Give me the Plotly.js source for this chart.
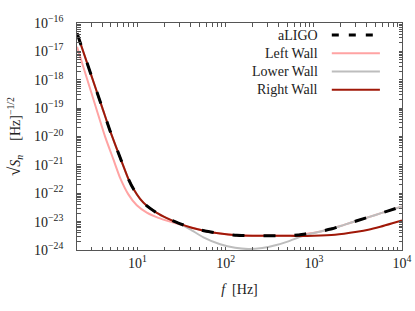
<!DOCTYPE html>
<html>
<head>
<meta charset="utf-8">
<script src="https://cdn.plot.ly/plotly-3.0.1.min.js"></script>
<style>html,body{margin:0;padding:0;background:#fff;}#chart{width:415px;height:311px;}</style>
</head>
<body>
<div id="chart"></div>
<script>
// ---- data ----
const seriesNames = ["aLIGO", "Left Wall", "Lower Wall", "Right Wall"];

const fALIGO = [2.063, 3, 4, 4.89, 6.63, 7.88, 8.98, 10.7, 12.76, 16.56, 21.5, 29.1, 41.3, 58.5, 86.6, 134, 200, 294, 400, 540, 665, 800, 1000, 1300, 1605, 2200, 3083, 5000, 6990, 10000];
const sALIGO = [4.34e-17, 1.39e-18, 1.0e-19, 1.57e-20, 1.28e-21, 3.21e-22, 1.43e-22, 6.35e-23, 3.6e-23, 2.04e-23, 1.33e-23, 8.85e-24, 6.05e-24, 4.67e-24, 3.78e-24, 3.3e-24, 3.18e-24, 3.16e-24, 3.16e-24, 3.2e-24, 3.4e-24, 3.68e-24, 4.05e-24, 4.8e-24, 5.58e-24, 7.7e-24, 1.07e-23, 1.72e-23, 2.4e-23, 3.4e-23];

const fLeft = [2.063, 3, 4.29, 5.33, 6.35, 7.88, 9.82, 12.76, 17.27, 23.4, 29.1, 41.3, 58.5, 86.6, 134, 200, 294, 400, 540, 665, 800, 1000, 1300, 1605, 2200, 3083, 5000, 6990, 10000];
const sLeft = [1.46e-17, 3.49e-19, 9.92e-21, 1.56e-21, 3.48e-22, 9.14e-23, 3.75e-23, 2.07e-23, 1.36e-23, 1.0e-23, 8.2e-24, 6.05e-24, 4.67e-24, 3.78e-24, 3.3e-24, 3.18e-24, 3.16e-24, 3.16e-24, 3.2e-24, 3.4e-24, 3.68e-24, 4.05e-24, 4.8e-24, 5.58e-24, 7.7e-24, 1.07e-23, 1.72e-23, 2.4e-23, 3.4e-23];

const fLower = [2.063, 3, 4, 4.89, 6.63, 7.88, 8.98, 10.7, 12.76, 16.56, 21.5, 29.1, 39.5, 56, 86.6, 128, 180.5, 260, 366, 514, 703, 962, 1248, 1605, 2200, 3083, 5000, 6990, 10000];
const sLower = [4.34e-17, 1.39e-18, 1.0e-19, 1.57e-20, 1.28e-21, 3.21e-22, 1.43e-22, 6.35e-23, 3.6e-23, 2.04e-23, 1.33e-23, 8.85e-24, 5.36e-24, 2.8e-24, 1.59e-24, 1.19e-24, 1.08e-24, 1.17e-24, 1.46e-24, 2.02e-24, 2.92e-24, 3.87e-24, 4.67e-24, 5.58e-24, 7.7e-24, 1.07e-23, 1.72e-23, 2.4e-23, 3.4e-23];

const fRight = [2.063, 3, 4, 4.89, 6.63, 7.88, 8.98, 10.7, 12.76, 16.56, 21.5, 29.1, 41.3, 58.5, 86.6, 134, 200, 294, 400, 540, 703, 1000, 1740, 3083, 4146, 5672, 7762, 10000];
const sRight = [4.34e-17, 1.39e-18, 1.0e-19, 1.57e-20, 1.28e-21, 3.21e-22, 1.43e-22, 6.35e-23, 3.6e-23, 2.04e-23, 1.33e-23, 8.85e-24, 6.05e-24, 4.67e-24, 3.78e-24, 3.3e-24, 3.18e-24, 3.16e-24, 3.16e-24, 3.16e-24, 3.12e-24, 3.16e-24, 3.43e-24, 4.37e-24, 5.14e-24, 6.56e-24, 8.71e-24, 1.11e-23];

const xTickVals = [10, 100, 1000, 10000];
const xTickText = ["10<sup>1</sup>", "10<sup>2</sup>", "10<sup>3</sup>", "10<sup>4</sup>"];
const yTickVals = [1e-24, 1e-23, 1e-22, 1e-21, 1e-20, 1e-19, 1e-18, 1e-17, 1e-16];
const yTickText = ["10<sup>−24</sup>", "10<sup>−23</sup>", "10<sup>−22</sup>", "10<sup>−21</sup>", "10<sup>−20</sup>", "10<sup>−19</sup>", "10<sup>−18</sup>", "10<sup>−17</sup>", "10<sup>−16</sup>"];

// ---- styling ----
const FONT = "Liberation Serif, Times New Roman, serif";
const colors = {"aLIGO": "#000000", "Left Wall": "#ffa3a3", "Lower Wall": "#bdbdbd", "Right Wall": "#a01808"};
const widths = {"aLIGO": 3, "Left Wall": 2, "Lower Wall": 2, "Right Wall": 2};
const YLABEL_PAD = "\u2002\u2009";   // gap between y tick labels and the axis

// major ticks plus unlabeled log minor ticks (2..9 in each decade)
function withMinor(vals, texts, lo, hi, pad) {
  const v = vals.slice(), t = texts.map(s => s + pad);
  for (let e = lo; e < hi; e++) for (let m = 2; m <= 9; m++) { v.push(m * Math.pow(10, e)); t.push(""); }
  return {v: v, t: t};
}
const xt = withMinor(xTickVals, xTickText, 0, 4, "");
const yt = withMinor(yTickVals, yTickText, -24, -16, YLABEL_PAD);

const lineOpts = (n, extra) => Object.assign({color: colors[n], width: widths[n], shape: "spline", smoothing: 0.5}, extra || {});
const traces = [
  {x: fLeft, y: sLeft, name: seriesNames[1], mode: "lines", line: lineOpts("Left Wall")},
  {x: fLower, y: sLower, name: seriesNames[2], mode: "lines", line: lineOpts("Lower Wall")},
  {x: fRight, y: sRight, name: seriesNames[3], mode: "lines", line: lineOpts("Right Wall")},
  {x: fALIGO, y: sALIGO, name: seriesNames[0], mode: "lines", line: lineOpts("aLIGO", {dash: "12px,19px"})}
];

// custom legend (text on the left, sample on the right)
const legX = 0.748, legY0 = 0.947, legDy = 0.0805, sx0 = 0.784, sx1 = 0.932;
const annotations = [], shapes = [];
seriesNames.forEach((n, i) => {
  const yy = legY0 - i * legDy;
  annotations.push({xref: "paper", yref: "paper", x: legX, y: yy, xanchor: "right", yanchor: "middle",
    text: n, showarrow: false, font: {family: FONT, size: 14, color: "#222"}});
  shapes.push({type: "line", xref: "paper", yref: "paper", x0: sx0, x1: sx1, y0: yy, y1: yy,
    line: {color: colors[n], width: widths[n], dash: n === "aLIGO" ? "7px,10px" : "solid"}});
});

const axisCommon = {
  type: "log", showgrid: false, zeroline: false,
  showline: true, linecolor: "#555", linewidth: 1, mirror: "allticks",
  ticks: "inside", ticklen: 3.5, tickcolor: "#555", tickwidth: 1, tickmode: "array",
  tickfont: {family: FONT, size: 14, color: "#222"}
};

const layout = {
  width: 415, height: 311,
  margin: {l: 77, r: 13, t: 23, b: 61},
  showlegend: false,
  font: {family: FONT, color: "#222"},
  xaxis: Object.assign({}, axisCommon, {range: [0.314, 4], tickvals: xt.v, ticktext: xt.t,
    title: {text: "<i>f</i>  [Hz]", font: {family: FONT, size: 14, color: "#222"}, standoff: 14}}),
  yaxis: Object.assign({}, axisCommon, {range: [-24, -16], tickvals: yt.v, ticktext: yt.t,
    title: {text: "<span style=\"font-size:17px\">√</span><i>S<sub>n</sub></i>    [Hz]<sup>−1/2</sup>", font: {family: FONT, size: 14, color: "#222"}, standoff: 10}}),
  annotations: annotations,
  shapes: shapes
};

Plotly.newPlot("chart", traces, layout, {staticPlot: true, displayModeBar: false});
</script>
</body>
</html>
